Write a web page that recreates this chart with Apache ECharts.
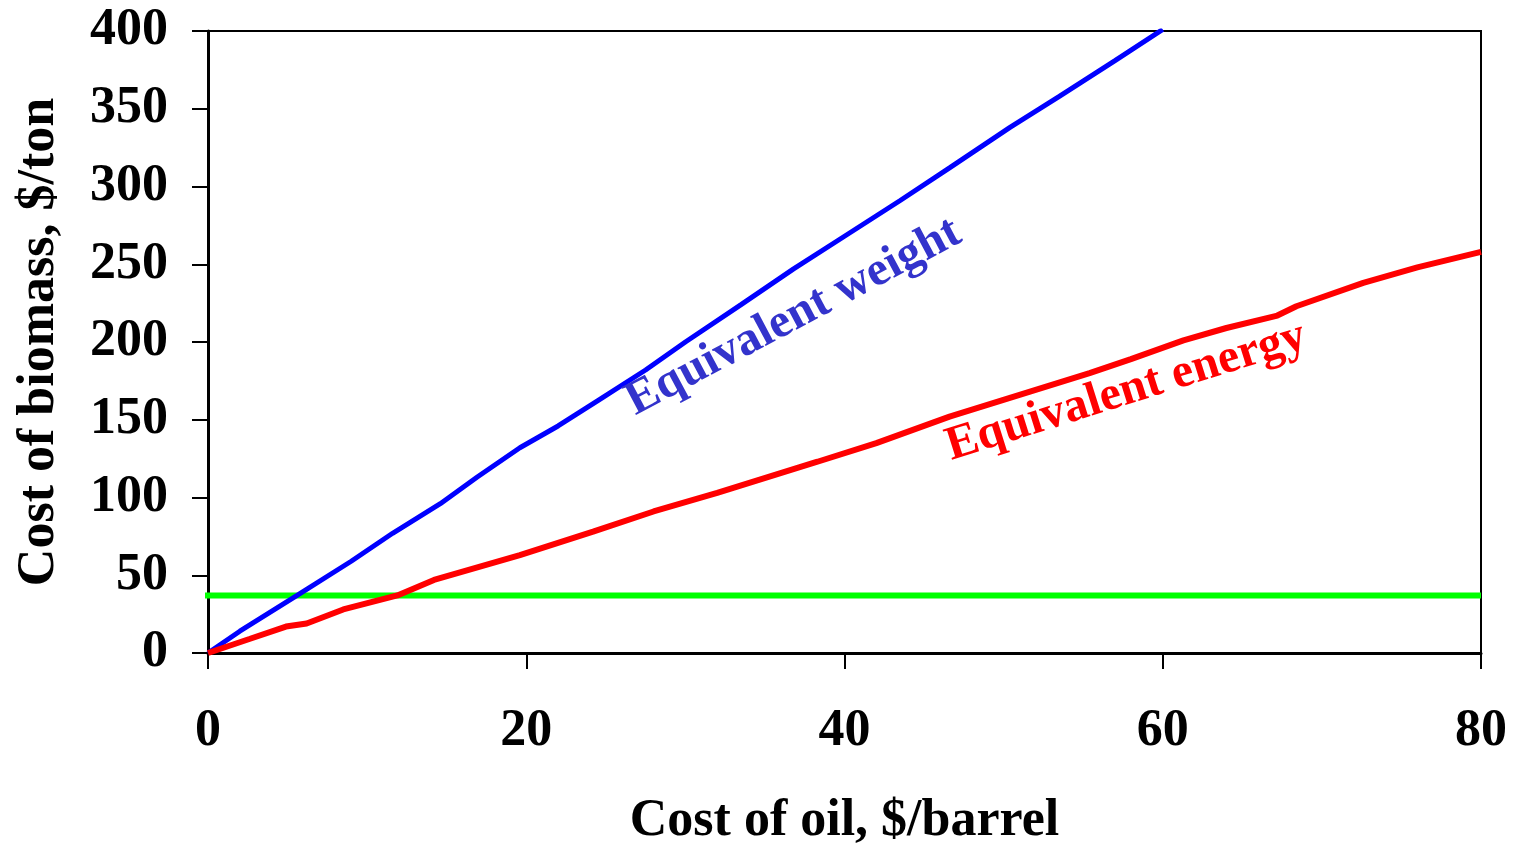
<!DOCTYPE html>
<html>
<head>
<meta charset="utf-8">
<script src="https://cdn.jsdelivr.net/npm/echarts@6/dist/echarts.min.js"></script>
<style>
  html, body { margin: 0; padding: 0; background: #fff; }
  #chart { width: 1514px; height: 846px; }
</style>
</head>
<body>
<div id="chart"></div>
<script>
// Oil price ($/barrel) vs. break-even biomass price ($/ton)
const weightOil   = [0, 2, 5.6, 9, 11.6, 14.6, 16.9, 19.6, 22, 24.6, 27.5, 30, 33.5, 36.8, 40, 43.5, 46.6, 50.4, 53.5, 57, 60];
const weightCost  = [0, 14, 37, 59, 77, 96, 113, 132, 146, 163, 182, 200, 224, 247, 268, 291, 312, 338, 358, 381, 401];

const energyOil   = [0, 2.6, 4.9, 6.2, 8.5, 11.9, 14.2, 19.6, 24.2, 28, 32, 38.3, 42, 46.6, 51, 55.4, 58, 61.3, 64, 67.2, 68.4, 72.6, 76, 80];
const energyCost  = [0, 9, 17, 19, 28, 37, 47, 63, 78, 91, 103, 123, 135, 152, 166, 180, 189, 201, 209, 217, 223, 238, 248, 258];

const biomassOil  = [-0.5, 80];
const biomassCost = [37, 37];

const xTicks = [0, 20, 40, 60, 80];
const yTicks = [0, 50, 100, 150, 200, 250, 300, 350, 400];

const labelWeight = { text: 'Equivalent weight', at: [36.8, 216], angle: 28, color: '#3333CC' };
const labelEnergy = { text: 'Equivalent energy', at: [57.7, 168], angle: 17.5, color: '#FF0000' };

const FONT = "'Liberation Serif', 'Times New Roman', serif";
const pairs = (xs, ys) => xs.map((x, i) => [x, ys[i]]);

const chart = echarts.init(document.getElementById('chart'), null, { renderer: 'canvas' });

chart.setOption({
  animation: false,
  backgroundColor: '#fff',
  grid: {
    left: 208, top: 31, right: 33, bottom: 193,
    containLabel: false, outerBoundsMode: 'none',
    show: true, borderColor: '#000', borderWidth: 2, backgroundColor: 'transparent'
  },
  xAxis: {
    type: 'value', min: xTicks[0], max: xTicks[xTicks.length - 1], interval: 20,
    name: 'Cost of oil, $/barrel', nameLocation: 'middle', nameGap: 143,
    nameTextStyle: { fontFamily: FONT, fontWeight: 'bold', fontSize: 52, color: '#000' },
    axisLine: { show: true, onZero: false, lineStyle: { color: '#000', width: 3 } },
    axisTick: { show: true, inside: false, length: 16, lineStyle: { color: '#000', width: 2 } },
    axisLabel: { margin: 53, fontFamily: FONT, fontWeight: 'bold', fontSize: 52, color: '#000' },
    splitLine: { show: false }
  },
  yAxis: {
    type: 'value', min: yTicks[0], max: yTicks[yTicks.length - 1], interval: 50,
    name: 'Cost of biomass, $/ton', nameLocation: 'middle', nameGap: 142, nameRotate: 90,
    nameTextStyle: { fontFamily: FONT, fontWeight: 'bold', fontSize: 52, color: '#000' },
    axisLine: { show: true, onZero: false, lineStyle: { color: '#000', width: 3 } },
    axisTick: { show: true, inside: false, length: 16, lineStyle: { color: '#000', width: 2 } },
    axisLabel: { margin: 40, fontFamily: FONT, fontWeight: 'bold', fontSize: 52, color: '#000' },
    splitLine: { show: false }
  },
  series: [
    {
      name: 'Equivalent weight', type: 'line', data: pairs(weightOil, weightCost),
      showSymbol: false, smooth: false, clip: true,
      lineStyle: { color: '#0000FF', width: 5 }, z: 3
    },
    {
      name: 'Equivalent energy', type: 'line', data: pairs(energyOil, energyCost),
      showSymbol: false, smooth: false, clip: true,
      lineStyle: { color: '#FF0000', width: 6 }, z: 3
    },
    {
      name: 'Biomass cost', type: 'line', data: pairs(biomassOil, biomassCost),
      showSymbol: false, smooth: false, clip: false,
      lineStyle: { color: '#00FF00', width: 6 }, z: 2
    }
  ]
});

// Rotated curve labels placed at data coordinates
function curveLabel(spec) {
  const p = chart.convertToPixel({ gridIndex: 0 }, spec.at);
  return {
    type: 'text', x: p[0], y: p[1], rotation: spec.angle * Math.PI / 180, z: 10,
    style: {
      text: spec.text, fill: spec.color, font: 'bold 48px ' + FONT,
      align: 'center', verticalAlign: 'middle'
    }
  };
}
chart.setOption({ graphic: [curveLabel(labelWeight), curveLabel(labelEnergy)] });
</script>
</body>
</html>
